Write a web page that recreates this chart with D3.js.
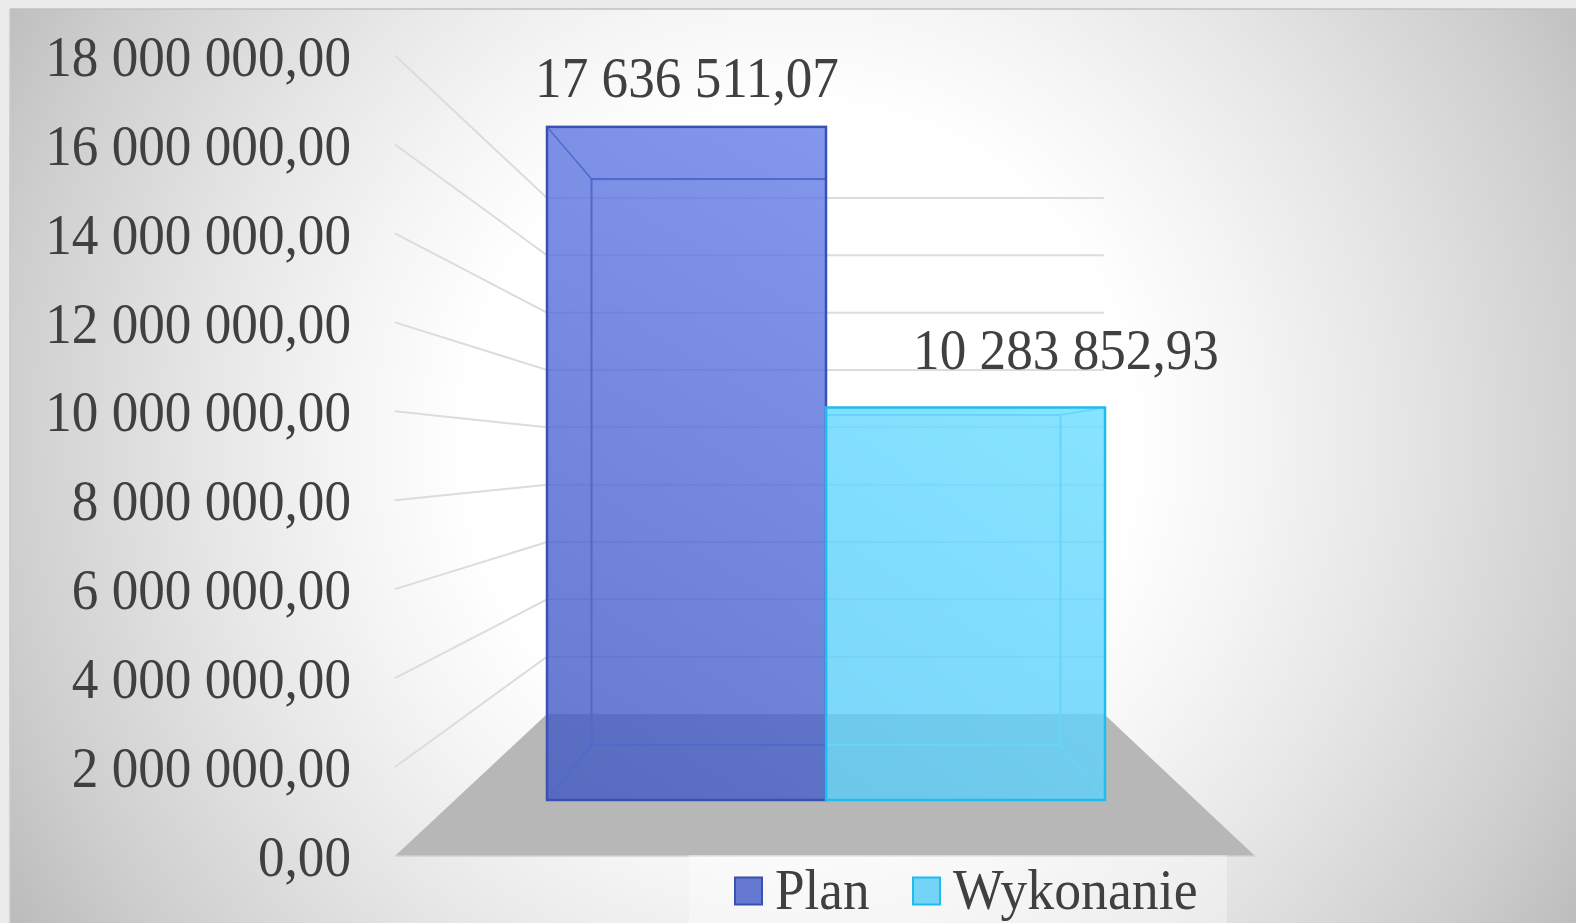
<!DOCTYPE html>
<html><head><meta charset="utf-8">
<script src="https://cdnjs.cloudflare.com/ajax/libs/d3/7.8.5/d3.min.js"></script>
<style>html,body{margin:0;padding:0;background:#ebebeb;overflow:hidden}svg{display:block}
text{font-family:"Liberation Serif",serif;fill:#404040;font-size:56px}</style>
</head><body><svg id="c" width="1576" height="923"></svg>
<script>
const tickValues = [0,2e6,4e6,6e6,8e6,10e6,12e6,14e6,16e6,18e6];
const tickLabels = ["0,00","2 000 000,00","4 000 000,00","6 000 000,00","8 000 000,00","10 000 000,00","12 000 000,00","14 000 000,00","16 000 000,00","18 000 000,00"];
const categories = ["Plan","Wykonanie"];
const values = [17636511.07,10283852.93];
const valueLabels = ["17 636 511,07","10 283 852,93"];
const strokes = ["#3a50b2","#1fbcf0"];

const W=1576,H=923;
const svg=d3.select("#c");
const defs=svg.append("defs");
const bg=defs.append("radialGradient").attr("id","bg").attr("gradientUnits","userSpaceOnUse")
  .attr("cx",800).attr("cy",440).attr("r",920);
[[0.36,"#ffffff"],[0.49,"#f5f5f5"],[0.65,"#e6e6e6"],[0.87,"#cecece"],[1,"#bcbcbc"]]
  .forEach(s=>bg.append("stop").attr("offset",s[0]).attr("stop-color",s[1]));
function grad(id,x1,x2,y1,y2,a,b,op){
  const g=defs.append("linearGradient").attr("id",id).attr("gradientUnits","userSpaceOnUse")
    .attr("x1",x1).attr("x2",x2).attr("y1",y1).attr("y2",y2);
  g.append("stop").attr("offset",0).attr("stop-color",a).attr("stop-opacity",op);
  g.append("stop").attr("offset",1).attr("stop-color",b).attr("stop-opacity",op);
}

// scales: one for each depth plane of the 3D box
const axisY=d3.scaleLinear().domain([0,18e6]).range([856,55.5]);
const tickTextY=d3.scaleLinear().domain([0,18e6]).range([875.5,76]);
const wallY=d3.scaleLinear().domain([0,18e6]).range([714,198]);
const frontY=d3.scaleLinear().domain([0,10283852.93]).range([800,407.5]);
const backY=d3.scaleLinear().domain([0,10283852.93]).range([745,415]);
const frontX=d3.scaleBand().domain(categories).range([547,1105]);
const wallX=[547,1104], axisX=[395,1255];

svg.append("rect").attr("x",10).attr("y",9).attr("width",W-10).attr("height",H-9).attr("fill","url(#bg)");
svg.append("line").attr("x1",10).attr("x2",W).attr("y1",9).attr("y2",9).attr("stroke","#c0c0c0").attr("stroke-width",1.5);
svg.append("line").attr("x1",10).attr("x2",10).attr("y1",9).attr("y2",H).attr("stroke","#c8c8c8").attr("stroke-width",1.5);

// gridlines
const line=d3.line();
svg.append("g").selectAll("path").data(tickValues.filter(v=>v>0)).join("path")
  .attr("d",v=>line([[axisX[0],axisY(v)],[wallX[0],wallY(v)],[wallX[1],wallY(v)]]))
  .attr("fill","none").attr("stroke","#dcdcdc").attr("stroke-width",2);

// floor
svg.append("path").attr("d",line([[axisX[0],axisY(0)],[wallX[0],wallY(0)],[wallX[1],wallY(0)],[axisX[1],axisY(0)]])+"Z")
  .attr("fill","#b7b7b7");
svg.append("line").attr("x1",axisX[0]).attr("x2",axisX[1]).attr("y1",axisY(0)).attr("y2",axisY(0)).attr("stroke","#d0d0d0").attr("stroke-width",1.5);

// tick labels
const textScaleX=0.95;
svg.append("g").attr("text-anchor","end").selectAll("text").data(tickValues).join("text")
  .attr("transform",v=>`translate(351,${tickTextY(v)}) scale(${textScaleX},1)`)
  .text((v,i)=>tickLabels[i]);

// bars
grad("g0",500,900,800,126,"#3d56c0","#6680ea",0.8);
grad("g1",825,1104,800,407,"#59cbf8","#69ddff",0.8);
const bw=frontX.bandwidth();
const inset=44.5;
categories.forEach((c,i)=>{
  const x0=frontX(c), x1=x0+bw, v=values[i];
  const yt=frontY(v), yb=frontY(0), byt=backY(v), byb=backY(0);
  const ix=i===0?x0+inset:x1-inset;
  const outer=i===0?x0:x1;
  const gg=svg.append("g");
  gg.append("rect").attr("x",x0).attr("y",yt).attr("width",bw).attr("height",yb-yt).attr("fill",`url(#g${i})`);
  const innerStroke=i===0?"#4f69cc":"#66d5fb";
  gg.append("rect").attr("x",Math.min(ix,i===0?x1:x0)).attr("y",byt)
    .attr("width",i===0?x1-ix:ix-x0).attr("height",byb-byt)
    .attr("fill","none").attr("stroke",innerStroke).attr("stroke-width",2);
  [[yt,byt],[yb,byb]].forEach(p=>{
    gg.append("line").attr("x1",outer).attr("y1",p[0]).attr("x2",ix).attr("y2",p[1])
      .attr("stroke",innerStroke).attr("stroke-width",1.5);
  });
  gg.append("rect").attr("x",x0).attr("y",yt).attr("width",bw).attr("height",yb-yt)
    .attr("fill","none").attr("stroke",strokes[i]).attr("stroke-width",2.5);
});

// value labels
const labelX=[687,1066], labelY=[97,369];
svg.append("g").attr("text-anchor","middle").selectAll("text").data(valueLabels).join("text")
  .attr("transform",(d,i)=>`translate(${labelX[i]},${labelY[i]}) scale(${textScaleX},1)`).text(d=>d);

// legend
svg.append("rect").attr("x",689).attr("y",855).attr("width",538).attr("height",68).attr("fill","#ffffff").attr("fill-opacity",0.35);
const keyX=[735,913], textX=[775,953], keyFill=["#6679d2","#74d4f7"], keyScale=[0.95,0.96];
const lg=svg.append("g").selectAll("g").data(categories).join("g");
lg.append("rect").attr("x",(d,i)=>keyX[i]).attr("y",877.5).attr("width",27).attr("height",27)
  .attr("fill",(d,i)=>keyFill[i]).attr("stroke",(d,i)=>strokes[i]).attr("stroke-width",2);
lg.append("text").attr("transform",(d,i)=>`translate(${textX[i]},909) scale(${keyScale[i]},1)`).text(d=>d);
</script></body></html>
